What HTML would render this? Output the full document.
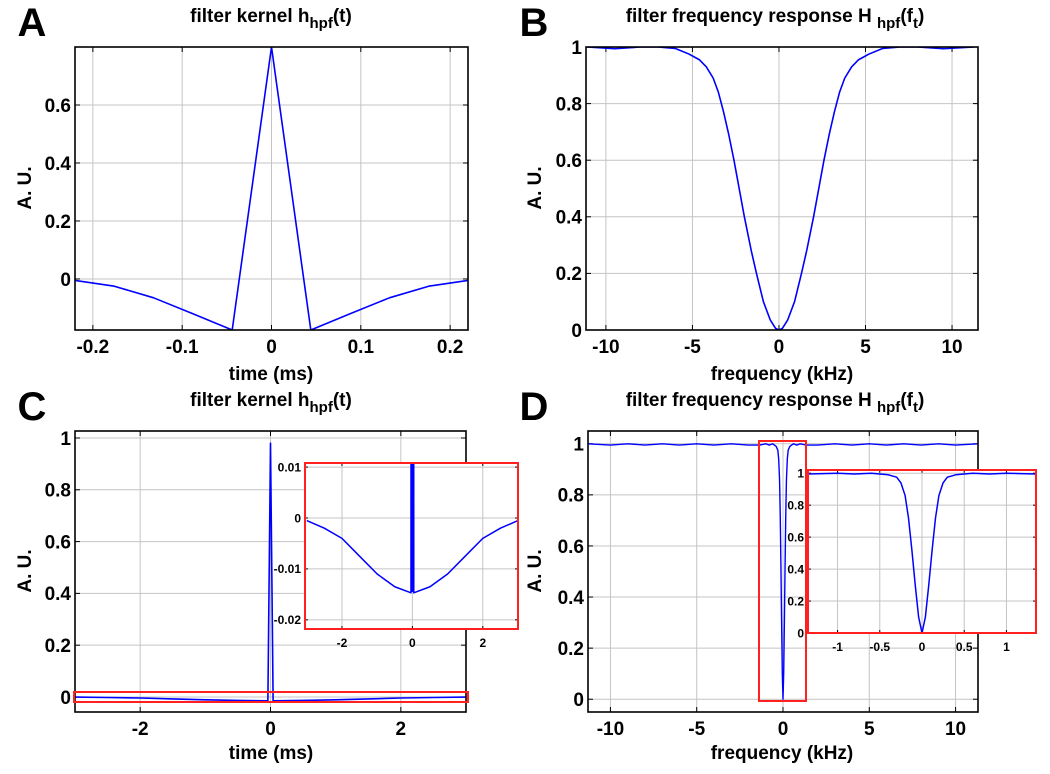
<!DOCTYPE html>
<html><head><meta charset="utf-8">
<style>
body{margin:0;background:#fff;}
svg{display:block;font-family:"Liberation Sans",sans-serif;}
text{font-weight:bold;fill:#000;}
</style></head>
<body>
<svg id="fig" width="1050" height="774" viewBox="0 0 1050 774" xmlns="http://www.w3.org/2000/svg"></svg>
<script>
// Panel A: filter kernel (short)
const aTime = [-0.22,-0.176,-0.132,-0.088,-0.044,0,0.044,0.088,0.132,0.176,0.22];
const aValue = [-0.005,-0.025,-0.065,-0.12,-0.176,0.8,-0.176,-0.12,-0.065,-0.025,-0.005];
const aXTicks = [-0.2,-0.1,0,0.1,0.2];
const aYTicks = [0,0.2,0.4,0.6];
// Panel B: frequency response
const bFreq = [-11.1,-9.5,-8,-7,-6,-5.2,-4.6,-4.2,-3.8,-3.5,-3.2,-2.9,-2.6,-2.3,-2.0,-1.6,-1.3,-0.9,-0.5,-0.2,0,0.2,0.5,0.9,1.3,1.6,2.0,2.3,2.6,2.9,3.2,3.5,3.8,4.2,4.6,5.2,6,7,8,9.5,11.3];
const bValue = [1,0.994,1,1,0.995,0.975,0.955,0.93,0.89,0.84,0.77,0.69,0.6,0.5,0.4,0.28,0.2,0.1,0.035,0.006,0,0.006,0.035,0.1,0.2,0.28,0.4,0.5,0.6,0.69,0.77,0.84,0.89,0.93,0.955,0.975,0.995,1,1,0.994,1];
const bXTicks = [-10,-5,0,5,10];
const bYTicks = [0,0.2,0.4,0.6,0.8,1];
// Panel C: filter kernel (long)
const cTime = [-3,-2.5,-2,-1.5,-1,-0.5,-0.04,0,0.04,0.5,1,1.5,2,2.5,3];
const cValue = [-0.0005,-0.002,-0.004,-0.0075,-0.011,-0.0135,-0.0147,0.98,-0.0147,-0.0135,-0.011,-0.0075,-0.004,-0.002,-0.0005];
const cXTicks = [-2,0,2];
const cYTicks = [0,0.2,0.4,0.6,0.8,1];
const cInsetXTicks = [-2,0,2];
const cInsetYTicks = [-0.02,-0.01,0,0.01];
// Panel D: frequency response (long kernel)
const dFreq = [-11.3,-10,-9,-8,-7,-6,-5,-4,-3,-2,-1.35,-1,-0.8,-0.6,-0.4,-0.3,-0.25,-0.2,-0.16,-0.12,-0.08,-0.04,0,0.04,0.08,0.12,0.16,0.2,0.25,0.3,0.4,0.6,0.8,1,1.35,2,3,4,5,6,7,8,9,10,11.3];
const dValue = [1,0.995,1,0.995,1,0.995,1,0.995,1,0.995,0.995,1,0.995,1,0.99,0.975,0.94,0.86,0.72,0.52,0.3,0.1,0,0.1,0.3,0.52,0.72,0.86,0.94,0.975,0.99,1,0.995,1,0.995,0.995,1,0.995,1,0.995,1,0.995,1,0.995,1];
const dXTicks = [-10,-5,0,5,10];
const dYTicks = [0,0.2,0.4,0.6,0.8,1];
const dInsetXTicks = [-1,-0.5,0,0.5,1];
const dInsetYTicks = [0,0.2,0.4,0.6,0.8,1];

const NS = "http://www.w3.org/2000/svg";
const svg = document.getElementById('fig');
function mk(tag, attrs, parent){
  const el = document.createElementNS(NS, tag);
  for (const k in attrs) el.setAttribute(k, attrs[k]);
  (parent||svg).appendChild(el);
  return el;
}
let clipId = 0;
function axes(o){
  const sx = v => o.x0 + (v - o.xmin) / (o.xmax - o.xmin) * (o.x1 - o.x0);
  const sy = v => o.y1 - (v - o.ymin) / (o.ymax - o.ymin) * (o.y1 - o.y0);
  const g = mk('g', {});
  
  
  const bg = mk('rect', {x:o.x0, y:o.y0, width:o.x1-o.x0, height:o.y1-o.y0, fill:'#fff'}, g);
  
  
  const tl = o.tick || 5;
  o.xt.forEach(v => {
    const x = sx(v);
    const gl = mk('line', {x1:x, x2:x, y1:o.y0, y2:o.y1, stroke:'#c4c4c4', 'stroke-width':1}, g);
    
    
    mk('line', {x1:x, x2:x, y1:o.y1, y2:o.y1-tl, stroke:'#000', 'stroke-width':1}, g);
    mk('line', {x1:x, x2:x, y1:o.y0, y2:o.y0+tl, stroke:'#000', 'stroke-width':1}, g);
    const t = mk('text', {x:x, y:o.y1 + o.fs + (o.xlabGap||4), 'font-size':o.fs, 'text-anchor':'middle'}, g);
    t.textContent = String(v);
    
    
  });
  o.yt.forEach(v => {
    const y = sy(v);
    const gl = mk('line', {x1:o.x0, x2:o.x1, y1:y, y2:y, stroke:'#c4c4c4', 'stroke-width':1}, g);
    
    
    mk('line', {x1:o.x0, x2:o.x0+tl, y1:y, y2:y, stroke:'#000', 'stroke-width':1}, g);
    mk('line', {x1:o.x1, x2:o.x1-tl, y1:y, y2:y, stroke:'#000', 'stroke-width':1}, g);
    const t = mk('text', {x:o.x0 - 4, y:y + o.fs*0.36, 'font-size':o.fs, 'text-anchor':'end'}, g);
    t.textContent = String(v);
    
    
  });
  clipId++;
  const cp = mk('clipPath', {id:'cp'+clipId}, g);
  mk('rect', {x:o.x0, y:o.y0, width:o.x1-o.x0, height:o.y1-o.y0}, cp);
  const pts = o.xs.map((v,i) => sx(v).toFixed(2) + ',' + sy(o.ys[i]).toFixed(2)).join(' ');
  const line = mk('polyline', {points:pts, fill:'none', stroke:'#0000ff', 'stroke-width':o.lw||1.6, 'clip-path':'url(#cp'+clipId+')', 'stroke-linejoin':'round'}, g);
  
  
  const box = mk('rect', {x:o.x0, y:o.y0, width:o.x1-o.x0, height:o.y1-o.y0, fill:'none', stroke:o.boxColor||'#000', 'stroke-width':o.boxW||1.6}, g);
  
  
  return {sx, sy, g};
}
function text(x, y, s, size, name, anchor, rot){
  const t = mk('text', {x:x, y:y, 'font-size':size, 'text-anchor':anchor||'middle'});
  if (rot) t.setAttribute('transform', 'rotate(-90 ' + x + ' ' + y + ')');
  t.innerHTML = s;
  
  
  return t;
}
const SUBK = 'filter kernel h<tspan dy="6" font-size="15">hpf</tspan><tspan dy="-6">(t)</tspan>';
const SUBH = 'filter frequency response H <tspan dy="6" font-size="15">hpf</tspan><tspan dy="-6">(f</tspan><tspan dy="6" font-size="15">t</tspan><tspan dy="-6">)</tspan>';

// Panel A
axes({name:'panel-a', x0:75, x1:468, y0:47, y1:330, xmin:-0.22, xmax:0.22, ymin:-0.176, ymax:0.8, xt:aXTicks, yt:aYTicks, xs:aTime, ys:aValue, fs:19});
text(32, 36, 'A', 40, 'panel-a-letter', 'middle');
text(271, 22, SUBK, 19, 'panel-a-title');
text(271, 380, 'time (ms)', 19, 'panel-a-x-axis-title');
text(31, 188, 'A. U.', 19, 'panel-a-y-axis-title', 'middle', true);

// Panel B
axes({name:'panel-b', x0:586, x1:978, y0:47, y1:330, xmin:-11.15, xmax:11.5, ymin:0, ymax:1, xt:bXTicks, yt:bYTicks, xs:bFreq, ys:bValue, fs:19});
text(534, 36, 'B', 40, 'panel-b-letter', 'middle');
text(775, 22, SUBH, 19, 'panel-b-title');
text(782, 380, 'frequency (kHz)', 19, 'panel-b-x-axis-title');
text(541, 188, 'A. U.', 19, 'panel-b-y-axis-title', 'middle', true);

// Panel C
axes({name:'panel-c', x0:75, x1:466, y0:431, y1:712, xmin:-3, xmax:3, ymin:-0.058, ymax:1.027, xt:cXTicks, yt:cYTicks, xs:cTime, ys:cValue, fs:19});
text(32, 420, 'C', 40, 'panel-c-letter', 'middle');
text(271, 406, SUBK, 19, 'panel-c-title');
text(271, 759, 'time (ms)', 19, 'panel-c-x-axis-title');
text(31, 571, 'A. U.', 19, 'panel-c-y-axis-title', 'middle', true);
const cz = mk('rect', {x:74, y:692, width:394, height:10, fill:'none', stroke:'#ff2020', 'stroke-width':2});


axes({name:'panel-c-inset', x0:305, x1:518, y0:463, y1:629, xmin:-3.05, xmax:3, ymin:-0.0218, ymax:0.0108, xt:cInsetXTicks, yt:cInsetYTicks, xs:cTime, ys:cValue, fs:12, tick:3, xlabGap:6, boxColor:'#ff2020', boxW:2, lw:1.5});
const spikeC = mk('line', {x1:412, x2:412, y1:464, y2:592, stroke:'#0000ff', 'stroke-width':3});



// Panel D
axes({name:'panel-d', x0:588, x1:978, y0:431, y1:712, xmin:-11.3, xmax:11.3, ymin:-0.05, ymax:1.05, xt:dXTicks, yt:dYTicks, xs:dFreq, ys:dValue, fs:19, lw:1.4});
text(534, 420, 'D', 40, 'panel-d-letter', 'middle');
text(775, 406, SUBH, 19, 'panel-d-title');
text(782, 759, 'frequency (kHz)', 19, 'panel-d-x-axis-title');
text(541, 571, 'A. U.', 19, 'panel-d-y-axis-title', 'middle', true);
const dz = mk('rect', {x:759, y:441, width:47, height:260, fill:'none', stroke:'#ff2020', 'stroke-width':2});


axes({name:'panel-d-inset', x0:808, x1:1036, y0:470, y1:633, xmin:-1.35, xmax:1.35, ymin:0, ymax:1.02, xt:dInsetXTicks, yt:dInsetYTicks, xs:dFreq, ys:dValue, fs:12, tick:3, xlabGap:6, boxColor:'#ff2020', boxW:2, lw:1.5});
</script>
</body></html>
